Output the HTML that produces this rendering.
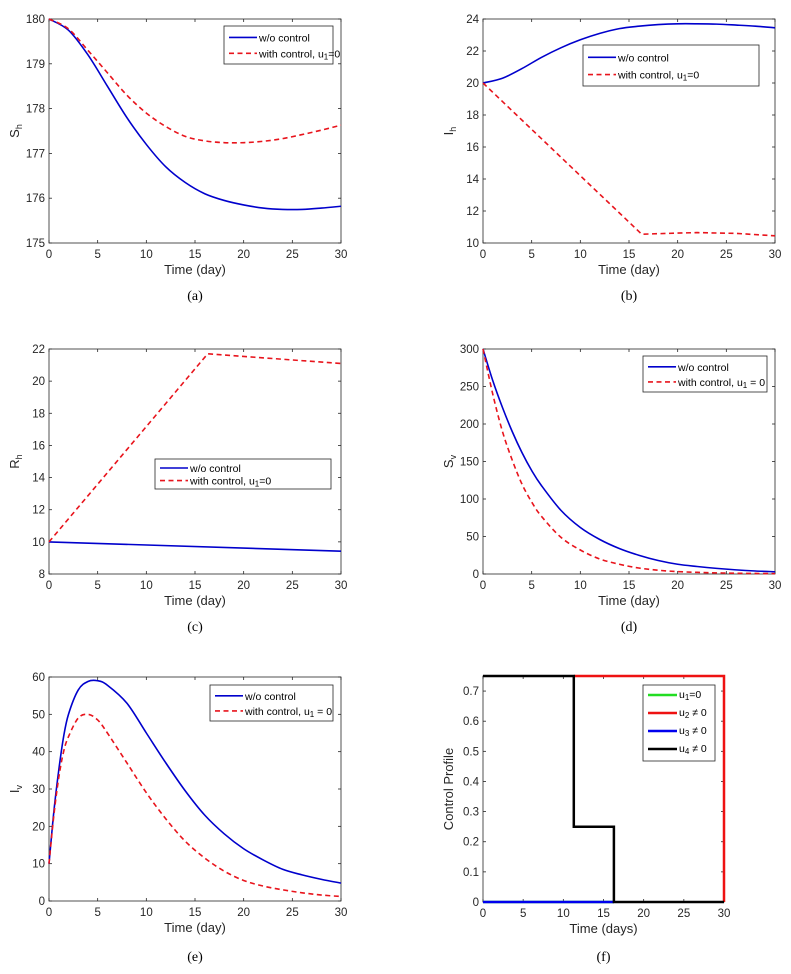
<!DOCTYPE html>
<html><head><meta charset="utf-8">
<style>
body{margin:0;background:#fff;}
svg{display:block;font-family:"Liberation Sans",Arial,sans-serif;}
.tk{font-size:11.5px;fill:#262626;}
.cap{font-family:"Liberation Serif",serif;font-size:14px;fill:#000;}
</style></head>
<body>
<svg id="fig" width="791" height="974" viewBox="0 0 791 974"></svg>
<script>
// Panel (a) S_h
const tA=[0,2,4,6,8,10,12,14,16,18,20,22,24,26,28,30];
const aBlue=[180,179.75,179.2,178.5,177.8,177.2,176.7,176.35,176.1,175.95,175.85,175.78,175.75,175.75,175.78,175.82];
const aRed=[180,179.78,179.3,178.8,178.3,177.9,177.6,177.38,177.28,177.24,177.24,177.27,177.33,177.42,177.52,177.63];
// Panel (b) I_h
const bBlue=[20,20.3,20.9,21.6,22.2,22.7,23.1,23.4,23.55,23.65,23.7,23.7,23.68,23.62,23.55,23.45];
const tBRed=[0,16.3,20,22,26,30];
const bRed=[20,10.55,10.62,10.65,10.6,10.45];
// Panel (c) R_h
const tC=[0,30];
const cBlue=[10,9.42];
const tCRed=[0,16.3,30];
const cRed=[10,21.7,21.1];
// Panel (d) S_v
const tD=[0,1,2,3,4,5,6,8,10,12,14,16,18,20,22,24,26,28,30];
const dBlue=[300,258,222,190,162,138,118,85,62,46,34,25,18,13,10,7.5,5.5,4,3];
const dRed=[300,240,190,152,120,96,77,49,32,20,13,8,5,3.2,2.2,1.5,1,0.7,0.5];
// Panel (e) I_v
const tE=[0,0.5,1,1.5,2,3,4,5,6,8,10,12,14,16,18,20,22,24,26,28,30];
const eBlue=[10,24,35,44,50,56.5,58.8,59,57.8,53,45,37,29.5,23,18,14,11,8.5,7,5.8,4.8];
const eRed=[10,23,33,40,44,49,50,48.5,45,37,29,22,16,11.5,8,5.5,4,3,2.2,1.6,1.2];
// Panel (f) control profiles
const tF4=[0,11.3,11.3,16.3,16.3,30];
const fU4=[0.75,0.75,0.25,0.25,0,0];
const tF2=[11.3,30,30];
const fU2=[0.75,0.75,0];
const tF3=[0,16.3];
const fU3=[0,0];
const tF1=[0,16.3];
const fU1=[0,0];
const xTicks=[0,5,10,15,20,25,30];
const aTicks=[175,176,177,178,179,180];
const bTicks=[10,12,14,16,18,20,22,24];
const cTicks=[8,10,12,14,16,18,20,22];
const dTicks=[0,50,100,150,200,250,300];
const eTicks=[0,10,20,30,40,50,60];
const fTicks=[0,0.1,0.2,0.3,0.4,0.5,0.6,0.7];

const NS="http://www.w3.org/2000/svg";
const svg=document.getElementById('fig');
function mk(tag,attrs,parent){const e=document.createElementNS(NS,tag);for(const k in attrs)e.setAttribute(k,attrs[k]);(parent||svg).appendChild(e);return e;}

function panel(id,box,ylim,yticks,ylab,xlab,caption,capY){
  const g=mk('g',{});
  
  
  const [x0,y0,x1,y1]=box;
  const sx=v=>x0+(v-0)/30*(x1-x0);
  const sy=v=>y1-(v-ylim[0])/(ylim[1]-ylim[0])*(y1-y0);
  const frame=mk('rect',{x:x0,y:y0,width:x1-x0,height:y1-y0,fill:'#fff',stroke:'#262626','stroke-width':0.8},g);
  
  
  xTicks.forEach(v=>{const x=sx(v);
    mk('line',{x1:x,y1:y1,x2:x,y2:y1-3,stroke:'#262626','stroke-width':0.8},g);
    mk('line',{x1:x,y1:y0,x2:x,y2:y0+3,stroke:'#262626','stroke-width':0.8},g);
    const t=mk('text',{x:x,y:y1+15,'text-anchor':'middle',class:'tk'},g);t.textContent=v;
    
    
  });
  yticks.forEach(v=>{const y=sy(v);
    mk('line',{x1:x0,y1:y,x2:x0+3,y2:y,stroke:'#262626','stroke-width':0.8},g);
    mk('line',{x1:x1,y1:y,x2:x1-3,y2:y,stroke:'#262626','stroke-width':0.8},g);
    const t=mk('text',{x:x0-4,y:y+4,'text-anchor':'end',class:'tk'},g);t.textContent=v;
    
    
  });
  const xl=mk('text',{x:(x0+x1)/2,y:y1+31,'text-anchor':'middle','font-size':'13px',fill:'#262626'},g);xl.textContent=xlab;
  
  
  const cx=x0-30,cy=(y0+y1)/2;
  const yl=mk('text',{transform:`translate(${cx},${cy}) rotate(-90)`,'text-anchor':'middle','font-size':'13px',fill:'#262626'},g);
  
  
  yl.innerHTML=ylab;
  const cp=mk('text',{x:(x0+x1)/2,y:capY,'text-anchor':'middle',class:'cap'},g);cp.textContent=caption;
  
  
  return {g,sx,sy};
}
function series(p,ts,vs,color,dash,name,w){
  const d=ts.map((t,i)=>(i?'L':'M')+p.sx(t).toFixed(1)+','+p.sy(vs[i]).toFixed(1)).join('');
  const a={d:d,fill:'none',stroke:color,'stroke-width':w||1.6};
  if(dash)a['stroke-dasharray']='5,3.5';
  const e=mk('path',a,p.g);
  
  
}
function smooth(p,ts,vs,color,dash,name){
  const P=ts.map((t,i)=>[p.sx(t),p.sy(vs[i])]);
  let d='M'+P[0][0]+','+P[0][1];
  for(let i=0;i<P.length-1;i++){const p0=P[i-1]||P[i],p1=P[i],p2=P[i+1],p3=P[i+2]||p2;
    d+=`C${p1[0]+(p2[0]-p0[0])/6},${p1[1]+(p2[1]-p0[1])/6},${p2[0]-(p3[0]-p1[0])/6},${p2[1]-(p3[1]-p1[1])/6},${p2[0]},${p2[1]}`;}
  const a={d:d,fill:'none',stroke:color,'stroke-width':1.6};
  if(dash)a['stroke-dasharray']='5,3.5';
  const e=mk('path',a,p.g);
  
  
}
function legend(p,box,label2){
  const [lx,ly,lw,lh]=box;
  const lg=mk('g',{},p.g);
  
  
  mk('rect',{x:lx,y:ly,width:lw,height:lh,fill:'#fff',stroke:'#262626','stroke-width':0.8},lg);
  const r1=ly+lh*0.3,r2=ly+lh*0.72;
  mk('line',{x1:lx+5,y1:r1,x2:lx+33,y2:r1,stroke:'#0000cc','stroke-width':1.6},lg);
  mk('line',{x1:lx+5,y1:r2,x2:lx+33,y2:r2,stroke:'#e8141c','stroke-width':1.6,'stroke-dasharray':'5,3.5'},lg);
  const t1=mk('text',{x:lx+35,y:r1+4,'font-size':'10.5px',fill:'#000'},lg);t1.textContent='w/o control';
  
  
  const t2=mk('text',{x:lx+35,y:r2+4,'font-size':'10.5px',fill:'#000'},lg);t2.innerHTML=label2;
  
  
}
const sub='<tspan baseline-shift="-30%" font-size="8px">1</tspan>';

let pa=panel('a',[49,19,341,243],[175,180],aTicks,'S<tspan baseline-shift="-30%" font-size="9px">h</tspan>','Time (day)','(a)',300);
smooth(pa,tA,aBlue,'#0000cc',false,'line-without-control');
smooth(pa,tA,aRed,'#e8141c',true,'line-with-control');
legend(pa,[224,26,109,38],'with control, u'+sub+'=0');
let pb=panel('b',[483,19,775,243],[10,24],bTicks,'I<tspan baseline-shift="-30%" font-size="9px">h</tspan>','Time (day)','(b)',300);
smooth(pb,tA,bBlue,'#0000cc',false,'line-without-control');
series(pb,tBRed,bRed,'#e8141c',true,'line-with-control');
legend(pb,[583,45,176,41],'with control, u'+sub+'=0');
let pc=panel('c',[49,349,341,574],[8,22],cTicks,'R<tspan baseline-shift="-30%" font-size="9px">h</tspan>','Time (day)','(c)',631);
series(pc,tC,cBlue,'#0000cc',false,'line-without-control');
series(pc,tCRed,cRed,'#e8141c',true,'line-with-control');
legend(pc,[155,459,176,30],'with control, u'+sub+'=0');
let pd=panel('d',[483,349,775,574],[0,300],dTicks,'S<tspan baseline-shift="-30%" font-size="9px">v</tspan>','Time (day)','(d)',631);
smooth(pd,tD,dBlue,'#0000cc',false,'line-without-control');
smooth(pd,tD,dRed,'#e8141c',true,'line-with-control');
legend(pd,[643,356,124,36],'with control, u'+sub+' = 0');
let pe=panel('e',[49,677,341,901],[0,60],eTicks,'I<tspan baseline-shift="-30%" font-size="9px">v</tspan>','Time (day)','(e)',961);
smooth(pe,tE,eBlue,'#0000cc',false,'line-without-control');
smooth(pe,tE,eRed,'#e8141c',true,'line-with-control');
legend(pe,[210,685,123,36],'with control, u'+sub+' = 0');
let pf=panel('f',[483,676,724,902],[0,0.75],fTicks,'Control Profile','Time (days)','(f)',961);
series(pf,tF1,fU1,'#22dd22',false,'line-u1',2.5);
series(pf,tF3,fU3,'#0000ee',false,'line-u3',2.5);
series(pf,tF2,fU2,'#ee1111',false,'line-u2',2.5);
series(pf,tF4,fU4,'#000000',false,'line-u4',2.5);
(function(){
  const lg=mk('g',{},pf.g);
  
  
  mk('rect',{x:643,y:685,width:72,height:76,fill:'#fff',stroke:'#262626','stroke-width':0.8},lg);
  const cols=['#22dd22','#ee1111','#0000ee','#000000'];
  const labs=['u<tspan baseline-shift="-30%" font-size="8px">1</tspan>=0',' u<tspan baseline-shift="-30%" font-size="8px">2</tspan> ≠ 0','u<tspan baseline-shift="-30%" font-size="8px">3</tspan> ≠ 0',' u<tspan baseline-shift="-30%" font-size="8px">4</tspan> ≠ 0'];
  labs.forEach((l,i)=>{const y=695+i*18;
    mk('line',{x1:648,y1:y,x2:677,y2:y,stroke:cols[i],'stroke-width':2.5},lg);
    const t=mk('text',{x:679,y:y+3,'font-size':'10.5px',fill:'#000','xml:space':'preserve'},lg);t.innerHTML=l;
    
    
  });
})();
</script>
</body></html>
